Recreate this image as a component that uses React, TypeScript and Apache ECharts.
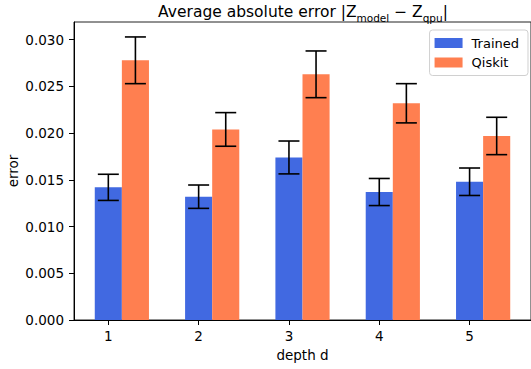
import React, { useEffect, useRef } from "react";
import * as echarts from "echarts";

const depths = [1, 2, 3, 4, 5];
const trainedMean = [0.0142, 0.0132, 0.0174, 0.0137, 0.0148];
const trainedErr = [0.0014, 0.00125, 0.00176, 0.00145, 0.00147];
const qiskitMean = [0.0278, 0.0204, 0.0263, 0.0232, 0.0197];
const qiskitErr = [0.0025, 0.0018, 0.0025, 0.0021, 0.002];
const yTicks = [0, 0.005, 0.01, 0.015, 0.02, 0.025, 0.03];
const xTicks = [1, 2, 3, 4, 5];

const FONT = "DejaVu Sans";
const BAR_W = 0.3;

function makeRender(color: string) {
  return (params: any, api: any) => {
    const x = api.value(0);
    const y = api.value(1);
    const e = api.value(2);
    const p0 = api.coord([x - BAR_W / 2, y]);
    const p1 = api.coord([x + BAR_W / 2, 0]);
    const top = api.coord([x, y + e]);
    const bot = api.coord([x, y - e]);
    const cap = 10.5;
    const ls = { stroke: "#000", lineWidth: 1.6 };
    return {
      type: "group",
      children: [
        {
          type: "rect",
          shape: { x: p0[0], y: p0[1], width: p1[0] - p0[0], height: p1[1] - p0[1] },
          style: { fill: color },
        },
        { type: "line", shape: { x1: top[0], y1: top[1], x2: bot[0], y2: bot[1] }, style: ls },
        { type: "line", shape: { x1: top[0] - cap, y1: top[1], x2: top[0] + cap, y2: top[1] }, style: ls },
        { type: "line", shape: { x1: bot[0] - cap, y1: bot[1], x2: bot[0] + cap, y2: bot[1] }, style: ls },
      ],
    };
  };
}

export default function App() {
  const ref = useRef<HTMLDivElement>(null);
  useEffect(() => {
    if (!ref.current) return;
    const chart = echarts.init(ref.current, undefined, { renderer: "svg" });
    const blue = "#4169E1";
    const orange = "#FF7F50";
    chart.setOption({
      animation: false,
      backgroundColor: "#fff",
      textStyle: { fontFamily: FONT },
      title: {
        text: "{m|Average absolute error |Z}{s|model}{m| − Z}{s|qpu}{m||}",
        left: 298,
        textAlign: "center",
        top: -5,
        textStyle: {
          fontWeight: "normal",
          rich: {
            m: { fontSize: 15.5, fontWeight: "normal", fontFamily: FONT, color: "#000", lineHeight: 20, verticalAlign: "bottom" },
            s: { fontSize: 10.5, fontWeight: "normal", fontFamily: FONT, color: "#000", lineHeight: 14, verticalAlign: "bottom", padding: [0, 0, -3, 0] },
          },
        },
      },
      legend: {
        orient: "vertical",
        right: 3,
        top: 30,
        itemWidth: 28,
        itemHeight: 10,
        itemGap: 5.5,
        padding: [6, 9, 6, 5],
        borderColor: "#d0d0d0",
        borderWidth: 1,
        borderRadius: 3,
        icon: "rect",
        textStyle: { fontSize: 13, fontFamily: FONT, color: "#000", lineHeight: 14, padding: [0, 0, 0, 4] },
        data: [
          { name: "Trained", itemStyle: { color: blue } },
          { name: "Qiskit", itemStyle: { color: orange } },
        ],
      },
      grid: {
        left: 74,
        right: 0,
        top: 22,
        bottom: 49,
        show: true,
        borderColor: "#222",
        borderWidth: 1,
        containLabel: false,
        outerBoundsMode: "none",
      },
      xAxis: {
        type: "value",
        min: 0.62,
        max: 5.68,
        name: "depth d",
        nameLocation: "middle",
        nameGap: 27,
        nameTextStyle: { fontSize: 13.5, fontFamily: FONT, color: "#000" },
        splitLine: { show: false },
        axisLine: { show: true, lineStyle: { color: "#000", width: 1 } },
        axisTick: { show: true, length: 5, lineStyle: { color: "#000" }, customValues: xTicks },
        axisLabel: {
          customValues: xTicks,
          fontSize: 13.5,
          fontFamily: FONT,
          color: "#000",
          margin: 9,
          formatter: (v: number) => String(v),
        },
      },
      yAxis: {
        type: "value",
        min: 0,
        max: 0.0319,
        name: "error",
        nameLocation: "middle",
        nameGap: 54,
        nameMoveOverlap: false,
        nameTextStyle: { fontSize: 13.5, fontFamily: FONT, color: "#000" },
        splitLine: { show: false },
        axisLine: { show: true, lineStyle: { color: "#000", width: 1 } },
        axisTick: { show: true, length: 5, lineStyle: { color: "#000" }, customValues: yTicks },
        axisLabel: {
          customValues: yTicks,
          fontSize: 13.5,
          fontFamily: FONT,
          color: "#000",
          margin: 10,
          formatter: (v: number) => v.toFixed(3),
        },
      },
      series: [
        {
          name: "Trained",
          type: "custom",
          itemStyle: { color: blue },
          renderItem: makeRender(blue),
          encode: { x: 0, y: 1 },
          data: depths.map((d, i) => [d, trainedMean[i], trainedErr[i]]),
        },
        {
          name: "Qiskit",
          type: "custom",
          itemStyle: { color: orange },
          renderItem: makeRender(orange),
          encode: { x: 0, y: 1 },
          data: depths.map((d, i) => [d + BAR_W, qiskitMean[i], qiskitErr[i]]),
        },
      ],
    });
    return () => chart.dispose();
  }, []);
  return <div ref={ref} style={{ width: 531, height: 369, position: "absolute", left: 0, top: 0 }} />;
}
